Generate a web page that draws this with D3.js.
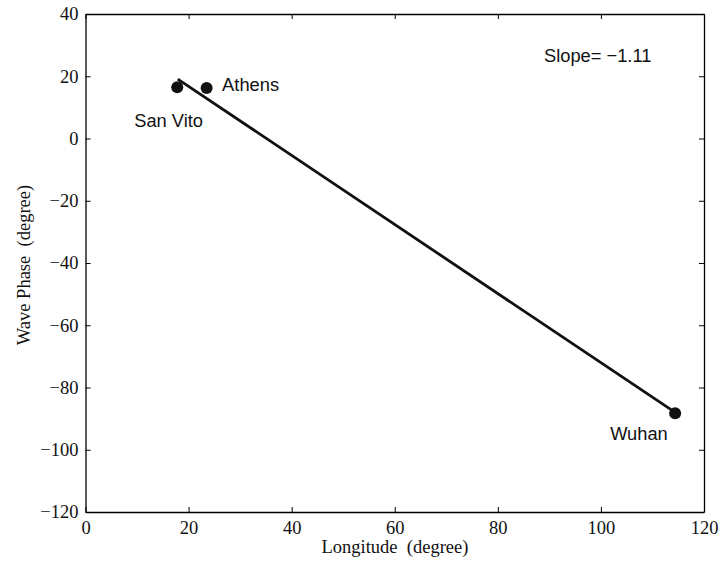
<!DOCTYPE html>
<html>
<head>
<meta charset="utf-8">
<script src="https://cdn.jsdelivr.net/npm/d3@7"></script>
<style>
  html, body { margin: 0; padding: 0; background: #fff; }
  svg { display: block; }
</style>
</head>
<body>
<svg id="chart" width="721" height="563"></svg>
<script>
// Station longitudes and wave phases
const stations = ["San Vito", "Athens", "Wuhan"];
const longitudes = [17.8, 23.5, 114.4];
const phases = [16.5, 16.2, -88.3];

// Fitted line endpoints (longitude, phase)
const fitX = [17.9, 114.4];
const fitY = [19.1, -88.0];

const xTicks = [0, 20, 40, 60, 80, 100, 120];
const yTicks = [40, 20, 0, -20, -40, -60, -80, -100, -120];

const slopeText = "Slope= \u22121.11";

const svg = d3.select("#chart");
const plot = { left: 85.5, right: 704, top: 14, bottom: 512 };

const x = d3.scaleLinear().domain([0, 120]).range([plot.left, plot.right]);
const y = d3.scaleLinear().domain([-120, 40]).range([plot.bottom, plot.top]);

const serif = "'Liberation Serif', 'Times New Roman', serif";
const sans = "'Liberation Sans', Arial, Helvetica, sans-serif";
const minus = s => String(s).replace("-", "\u2212");

// Axes with inward ticks on all four sides
function styleAxis(g, showLabels) {
  g.attr("font-family", null).attr("font-size", null);
  g.select(".domain").attr("stroke", "#000").attr("stroke-width", 1.3);
  g.selectAll(".tick line").attr("stroke", "#000").attr("stroke-width", 1);
  g.selectAll(".tick text")
    .style("font-family", serif).style("font-size", "18.5px").attr("fill", "#111")
    .style("display", showLabels ? null : "none");
}

svg.append("g").attr("transform", `translate(0,${plot.bottom})`)
  .call(d3.axisBottom(x).tickValues(xTicks).tickSizeInner(-5).tickSizeOuter(0).tickPadding(9).tickFormat(d => minus(d)))
  .call(g => styleAxis(g, true));
svg.append("g").attr("transform", `translate(0,${plot.top})`)
  .call(d3.axisTop(x).tickValues(xTicks).tickSizeInner(-5).tickSizeOuter(0))
  .call(g => styleAxis(g, false));
svg.append("g").attr("transform", `translate(${plot.left},0)`)
  .call(d3.axisLeft(y).tickValues(yTicks).tickSizeInner(-5).tickSizeOuter(0).tickPadding(7).tickFormat(d => minus(d)))
  .call(g => styleAxis(g, true));
svg.append("g").attr("transform", `translate(${plot.right},0)`)
  .call(d3.axisRight(y).tickValues(yTicks).tickSizeInner(-5).tickSizeOuter(0))
  .call(g => styleAxis(g, false));

// Fitted line
svg.append("path")
  .datum(d3.zip(fitX, fitY))
  .attr("d", d3.line().x(d => x(d[0])).y(d => y(d[1])))
  .attr("fill", "none").attr("stroke", "#111").attr("stroke-width", 2.8);

// Station markers
const pts = d3.zip(stations, longitudes, phases);
svg.append("g").selectAll("circle").data(pts).join("circle")
  .attr("cx", d => x(d[1])).attr("cy", d => y(d[2])).attr("r", 6)
  .attr("fill", "#111");

// Station labels
const labelOffsets = { "San Vito": [-43, 40], "Athens": [15.5, 3], "Wuhan": [-65, 27] };
svg.append("g").selectAll("text").data(pts).join("text")
  .attr("x", d => x(d[1]) + labelOffsets[d[0]][0])
  .attr("y", d => y(d[2]) + labelOffsets[d[0]][1])
  .style("font-family", sans).style("font-size", "18.3px").attr("fill", "#111")
  .text(d => d[0]);

svg.append("text")
  .attr("x", 544).attr("y", 62)
  .style("font-family", sans).style("font-size", "18.3px").attr("fill", "#111")
  .text(slopeText);

// Axis titles
svg.append("text")
  .attr("x", 395).attr("y", 553)
  .attr("text-anchor", "middle")
  .style("font-family", serif).style("font-size", "18.5px").attr("fill", "#111")
  .style("white-space", "pre")
  .text("Longitude  (degree)");

svg.append("text")
  .attr("transform", "translate(30,265) rotate(-90)")
  .attr("text-anchor", "middle")
  .style("font-family", serif).style("font-size", "18.5px").attr("fill", "#111")
  .style("white-space", "pre")
  .text("Wave Phase  (degree)");
</script>
</body>
</html>
